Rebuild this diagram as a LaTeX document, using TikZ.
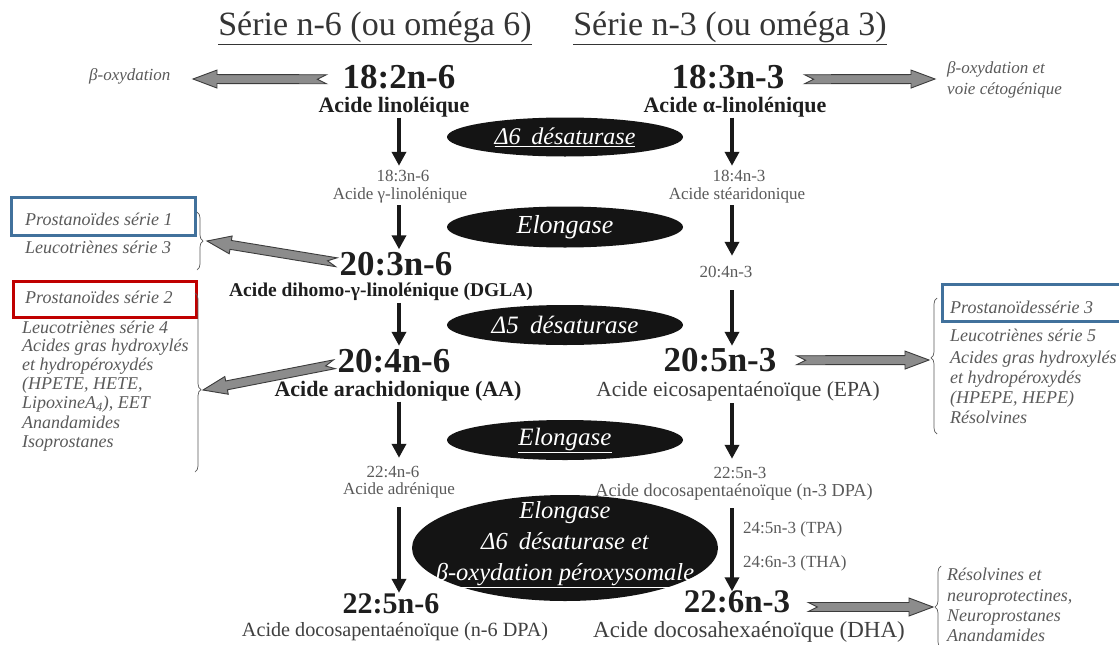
\documentclass[tikz,border=0pt]{standalone}
\usepackage{fontspec}
\setmainfont{Liberation Serif}
\usetikzlibrary{calc,arrows.meta,shapes.geometric,decorations.pathreplacing}
\definecolor{txtgray}{HTML}{5A5A5A}
\definecolor{dark}{HTML}{1E1E1E}
\definecolor{boxblue}{HTML}{41719C}
\definecolor{boxred}{HTML}{C00000}
\definecolor{arrfill}{HTML}{8C8C8C}
\definecolor{arrline}{HTML}{3C3C3C}
\newcommand{\fs}[1]{\fontsize{#1}{#1}\selectfont}
\newcommand{\fatarrow}[2]{%
  \coordinate (fah) at ($(#2)!24pt!(#1)$);
  \filldraw[fatarr] ($(#1)!4.5pt!90:(#2)$) -- ($(fah)!4.5pt!90:(#2)$) -- ($(fah)!9pt!90:(#2)$) -- (#2)
    -- ($(fah)!9pt!-90:(#2)$) -- ($(fah)!4.5pt!-90:(#2)$) -- ($(#1)!4.5pt!-90:(#2)$) -- ($(#1)!9pt!(#2)$) -- cycle;
}
\tikzset{
  title/.style={font=\fs{34}, text=dark!90, inner sep=0pt, text height=25.5pt, text depth=8.5pt},
  big/.style={font=\fs{35}\bfseries, text=dark, inner sep=0pt, text height=25.5pt, text depth=1pt},
  lname/.style={font=\fs{22}\bfseries, text=dark, inner sep=0pt, text height=16.5pt, text depth=5.5pt},
  namereg/.style={font=\fs{21.5}, text=dark!85, inner sep=0pt, text height=16.1pt, text depth=5.4pt},
  small/.style={font=\fs{17}, text=txtgray, inner sep=0pt, text height=12.75pt, text depth=4.25pt},
  ital/.style={font=\fs{18}\itshape, text=txtgray, inner sep=0pt, anchor=west, text height=13.5pt, text depth=4.5pt},
  side/.style={font=\fs{17}\itshape, text=txtgray, inner sep=0pt, anchor=west, text height=12.75pt, text depth=4.25pt},
  enz/.style={ellipse, fill=black!92, inner sep=0pt},
  enztext/.style={font=\fs{25}\itshape, text=white, inner sep=0pt, align=center},
  darr/.style={line width=3.5pt, -{Triangle[length=14pt,width=14pt]}, black!90},
  fatarr/.style={fill=arrfill, draw=arrline, line width=0.9pt, line join=miter},
  brc/.style={draw=txtgray, line width=0.7pt, decorate},
  hlbox/.style={line width=3pt},
}
\begin{document}
\begin{tikzpicture}[x=1pt,y=-1pt]
\useasboundingbox (0,0) rectangle (1119,645);
\fill[white] (0,0) rectangle (1119,645);

% titles
\node[title] (t1) at (375,27) {\underline{Série n-6 (ou oméga 6)}};
\node[title] (t2) at (730,27) {\underline{Série n-3 (ou oméga 3)}};

\coordinate (cL) at (399,0);
\coordinate (cR) at (732,0);

% left column
\node[big] (a182) at (399,75.75) {18:2n-6};
\node[lname] (n182) at (394,106.5) {Acide linoléique};
\node[small] (a183) at (403,177.5) {18:3n-6};
\node[small] (n183) at (400,195) {Acide γ-linolénique};
\node[big] (a203) at (396,262.75) {20:3n-6};
\node[lname, font=\fs{19.5}\bfseries, text height=14.6pt, text depth=4.9pt] (n203) at (381,292) {Acide dihomo-γ-linolénique (DGLA)};
\node[big] (a204) at (394,359.75) {20:4n-6};
\node[lname] (n204) at (398,390.5) {Acide arachidonique (AA)};
\node[small] (a224) at (393,473) {22:4n-6};
\node[small] (n224) at (399,490) {Acide adrénique};
\node[big, font=\fs{30}\bfseries, text height=22pt, text depth=1pt] (a225) at (391,602.5) {22:5n-6};
\node[namereg, font=\fs{20.2}, text height=15.15pt, text depth=5.05pt] (n225) at (395,631) {Acide docosapentaénoïque (n-6 DPA)};

% right column
\node[big] (b183) at (728,75.75) {18:3n-3};
\node[lname] (m183) at (735,106.5) {Acide α-linolénique};
\node[small] (b184) at (739,177.5) {18:4n-3};
\node[small] (m184) at (737,195) {Acide stéaridonique};
\node[small] (b204) at (726,273) {20:4n-3};
\node[big] (b205) at (720,358.75) {20:5n-3};
\node[namereg] (m205) at (738,391.6) {Acide eicosapentaénoïque (EPA)};
\node[small] (b225) at (740,474) {22:5n-3};
\node[small, font=\fs{18.3}, text height=13.7pt, text depth=4.6pt] (m225) at (734,492) {Acide docosapentaénoïque (n-3 DPA)};
\node[small, anchor=west] (tpa) at (743,529) {24:5n-3 (TPA)};
\node[small, anchor=west] (tha) at (743,563) {24:6n-3 (THA)};
\node[big, font=\fs{33}\bfseries, text height=24pt, text depth=1pt] (b226) at (737,601) {22:6n-3};
\node[namereg, font=\fs{23}, text height=17.25pt, text depth=5.75pt] (m226) at (749,631.5) {Acide docosahexaénoïque (DHA)};

% enzymes
\node[enz, minimum width=236pt, minimum height=39pt] (e1) at (565,137) {};
\node[enztext, font=\fs{24}\itshape] (e1t) at (e1) {\underline{Δ6\hspace{0.45em}désaturase}};
\node[enz, minimum width=236pt, minimum height=41pt] (e2) at (565,227) {};
\node[enztext, font=\fs{26}\itshape] (e2t) at (e2) {Elongase};
\node[enz, minimum width=236pt, minimum height=40pt] (e3) at (565,325) {};
\node[enztext, font=\fs{25}\itshape] (e3t) at (e3) {Δ5\hspace{0.45em}désaturase};
\node[enz, minimum width=236pt, minimum height=40pt] (e4) at (565,440) {};
\node[enztext, font=\fs{25}\itshape] (e4t) at (e4) {\underline{Elongase}};
\node[enz, minimum width=306pt, minimum height=106pt] (e5) at (565,548) {};
\node[enztext, font=\fontsize{24.5}{31}\selectfont\itshape] (e5t) at (565,545) {Elongase\\Δ6\hspace{0.45em}désaturase et\\\underline{β-oxydation péroxysomale}};

% vertical arrows, left
\draw[darr] ($(n182.south -| cL)+(0,0)$) -- ($(a183.north -| cL)+(0,-3)$);
\draw[darr] ($(n183.south -| cL)+(0,1.5)$) -- ($(a203.north -| cL)+(0,0)$);
\draw[darr] ($(n203.south -| cL)+(0,1)$) -- ($(a204.north -| cL)+(0,-0.5)$);
\draw[darr] ($(n204.south -| cL)+(0,0)$) -- ($(a224.north -| cL)+(0,-6.5)$);
\draw[darr] ($(n224.south -| cL)+(0,8.5)$) -- ($(a225.north -| cL)+(0,2)$);
% vertical arrows, right
\draw[darr] ($(m183.south -| cR)+(0,0)$) -- ($(b184.north -| cR)+(0,-3)$);
\draw[darr] ($(m184.south -| cR)+(0,1.5)$) -- ($(b204.north -| cR)+(0,-8.5)$);
\draw[darr] ($(b204.south -| cR)+(0,8.5)$) -- ($(b205.north -| cR)+(0,0.5)$);
\draw[darr] ($(m205.south -| cR)+(0,0.5)$) -- ($(b225.north -| cR)+(0,-6.5)$);
\draw[darr] ($(m225.south -| cR)+(0,7)$) -- ($(b226.north -| cR)+(0,3)$);

% side texts
\node[side] (box1) at (89,76) {β-oxydation};
\node[side] (box2) at (947,69) {β-oxydation et};
\node[side] (box3) at (947,90) {voie cétogénique};

\node[ital] (g1a) at (25,221) {Prostanoïdes série 1};
\node[ital] (g1b) at (25,249) {Leucotriènes série 3};

\node[ital] (g2a) at (25,299) {Prostanoïdes série 2};
\node[ital] (g2b) at (22,329) {Leucotriènes série 4};
\node[ital] (g2c) at (22,347) {Acides gras hydroxylés};
\node[ital] (g2d) at (22,366) {et hydropéroxydés};
\node[ital] (g2e) at (22,385) {(HPETE, HETE,};
\node[ital] (g2f) at (22,404) {LipoxineA\textsubscript{4}), EET};
\node[ital] (g2g) at (22,424) {Anandamides};
\node[ital] (g2h) at (22,443) {Isoprostanes};

\node[ital] (g3a) at (950,309) {Prostanoïdessérie 3};
\node[ital] (g3b) at (950,337) {Leucotriènes série 5};
\node[ital] (g3c) at (950,359) {Acides gras hydroxylés};
\node[ital] (g3d) at (950,379) {et hydropéroxydés};
\node[ital] (g3e) at (950,399) {(HPEPE, HEPE)};
\node[ital] (g3f) at (950,419) {Résolvines};

\node[ital] (g4a) at (947,576) {Résolvines et};
\node[ital] (g4b) at (947,597) {neuroprotectines,};
\node[ital] (g4c) at (947,617) {Neuroprostanes};
\node[ital] (g4d) at (947,637) {Anandamides};

% highlight boxes
\draw[hlbox, boxblue] (11,197) rectangle (195,235);
\draw[hlbox, boxred] (13,281) rectangle (196,317);
\draw[hlbox, boxblue] (942,284) rectangle (1125,321);

% braces
\coordinate (br1s) at (197,212); \coordinate (br1e) at (197,270);
\draw[brc, decoration={brace, amplitude=6pt}] (br1s) -- (br1e);
\coordinate (br2s) at (195,293); \coordinate (br2e) at (195,472);
\draw[brc, decoration={brace, amplitude=6pt, aspect=0.54}] (br2s) -- (br2e);
\coordinate (br3s) at (937,434); \coordinate (br3e) at (937,298);
\draw[brc, decoration={brace, amplitude=6pt, aspect=0.56}] (br3s) -- (br3e);
\coordinate (br4s) at (941,648); \coordinate (br4e) at (941,566);
\draw[brc, decoration={brace, amplitude=6pt, aspect=0.5}] (br4s) -- (br4e);

% fat arrows
\coordinate (f1s) at ($(a182.west)+(-16,3.5)$); \coordinate (f1e) at (193,79);
\fatarrow{f1s}{f1e}
\coordinate (f2s) at ($(b183.east)+(20,3.5)$); \coordinate (f2e) at (935,79);
\fatarrow{f2s}{f2e}
\coordinate (f3s) at ($(a203.west)+(-3,-0.5)$); \coordinate (f3e) at (207,241);
\fatarrow{f3s}{f3e}
\coordinate (f4s) at ($(a204.west)+(-3,4.5)$); \coordinate (f4e) at (203,390);
\fatarrow{f4s}{f4e}
\coordinate (f5s) at ($(b205.east)+(20,1.5)$); \coordinate (f5e) at (929,360);
\fatarrow{f5s}{f5e}
\coordinate (f6s) at ($(b226.east)+(18,6)$); \coordinate (f6e) at (933,607);
\fatarrow{f6s}{f6e}
\end{tikzpicture}
\end{document}
